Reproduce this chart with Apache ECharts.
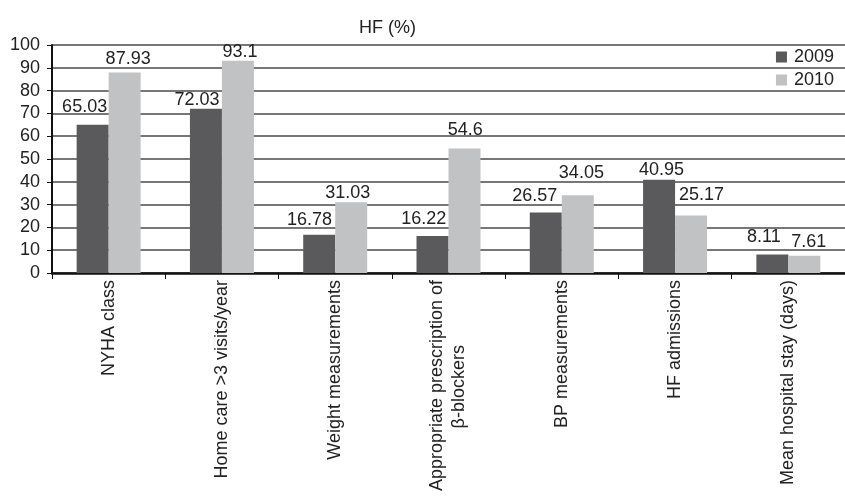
<!DOCTYPE html>
<html>
<head>
<meta charset="utf-8">
<script src="https://cdn.jsdelivr.net/npm/echarts@6/dist/echarts.min.js"></script>
<style>
  html, body { margin: 0; padding: 0; background: #fff; }
  #chart { width: 845px; height: 499px; }
</style>
</head>
<body>
<div id="chart"></div>
<script>
// Heart-failure quality indicators, 2009 vs 2010
const categories = [
  'NYHA class',
  'Home care >3 visits/year',
  'Weight measurements',
  'Appropriate prescription of\nβ-blockers',
  'BP measurements',
  'HF admissions',
  'Mean hospital stay (days)'
];
const values2009 = [65.03, 72.03, 16.78, 16.22, 26.57, 40.95, 8.11];
const values2010 = [87.93, 93.1, 31.03, 54.6, 34.05, 25.17, 7.61];
const seriesNames = ['2009', '2010'];

// Hand-placed value labels: horizontal nudge and lift above the bar (px)
const labelShift2009 = [-8, -9, -9.7, -8.7, -11, 2.5, -8.5];
const labelLift2009 = [9, 0, 6, 8, 7.7, 1, 8.5];
const labelShift2010 = [3.5, 2, -3.5, 0.8, 3.6, 10.5, 4.5];
const labelLift2010 = [4.5, 0, 0, 9, 13, 11.6, 5];

const FONT = '"Liberation Sans", Arial, sans-serif';
const TEXT = '#222';
const FS = 18;
const NBSP = '\u00a0';

const chart = echarts.init(document.getElementById('chart'), null, { renderer: 'canvas' });

// Rotated axis labels are end-aligned at the axis; a shorter second line gets
// trailing no-break spaces so it sits centred under the first line.
const measureCtx = document.createElement('canvas').getContext('2d');
measureCtx.font = FS + 'px ' + FONT;
function textWidth(s) { return measureCtx.measureText(s).width; }

function catLabel(v) {
  const parts = v.split('\n');
  if (parts.length < 2) return v;
  const widths = parts.map(textWidth);
  const full = Math.max(...widths);
  const spaceW = textWidth(NBSP) || FS * 0.278;
  return parts.map((p, i) => {
    let n = Math.round((full - widths[i]) / 2 / spaceW);
    if (!(n >= 0) || n > 40) n = 0;
    return p + NBSP.repeat(n);
  }).join('\n');
}

function withLabels(values, shifts, lifts) {
  return values.map((v, i) => ({
    value: v,
    label: { offset: [shifts[i], -lifts[i]] }
  }));
}

const labelStyle = {
  show: true,
  position: 'top',
  distance: 0,
  color: TEXT,
  fontFamily: FONT,
  fontSize: FS
};

chart.setOption({
  animation: false,
  backgroundColor: '#fff',
  title: {
    text: 'HF (%)',
    left: 354,
    top: 14,
    textStyle: { color: TEXT, fontFamily: FONT, fontSize: FS, fontWeight: 'normal' }
  },
  legend: {
    orient: 'vertical',
    right: 6,
    top: 43,
    itemWidth: 11,
    itemHeight: 11,
    itemGap: 5,
    icon: 'rect',
    textStyle: { color: TEXT, fontFamily: FONT, fontSize: FS, padding: [0, 0, 0, 2] },
    data: seriesNames
  },
  grid: { left: 52, right: -10, top: 45, bottom: 226, containLabel: false },
  xAxis: {
    type: 'category',
    data: categories,
    axisLine: { lineStyle: { color: '#111', width: 2.5 } },
    axisTick: { show: true, length: 6, lineStyle: { color: '#111', width: 1 } },
    axisLabel: {
      interval: 0,
      rotate: 90,
      margin: 7,
      color: TEXT,
      fontFamily: FONT,
      fontSize: FS,
      lineHeight: 22,
      formatter: catLabel
    }
  },
  yAxis: {
    type: 'value',
    min: 0,
    max: 100,
    interval: 10,
    axisLine: { show: true, lineStyle: { color: '#111', width: 2 } },
    axisTick: { show: true, length: 5, lineStyle: { color: '#111', width: 1 } },
    axisLabel: { margin: 12, color: TEXT, fontFamily: FONT, fontSize: FS },
    splitLine: { show: true, lineStyle: { color: '#4a4a4a', width: 1.5 } }
  },
  series: [
    {
      name: seriesNames[0],
      type: 'bar',
      data: withLabels(values2009, labelShift2009, labelLift2009),
      barWidth: 32,
      barGap: '0%',
      itemStyle: { color: '#5a5a5c' },
      label: labelStyle
    },
    {
      name: seriesNames[1],
      type: 'bar',
      data: withLabels(values2010, labelShift2010, labelLift2010),
      barWidth: 32,
      barGap: '0%',
      itemStyle: { color: '#c1c2c4' },
      label: labelStyle
    }
  ]
});
</script>
</body>
</html>
